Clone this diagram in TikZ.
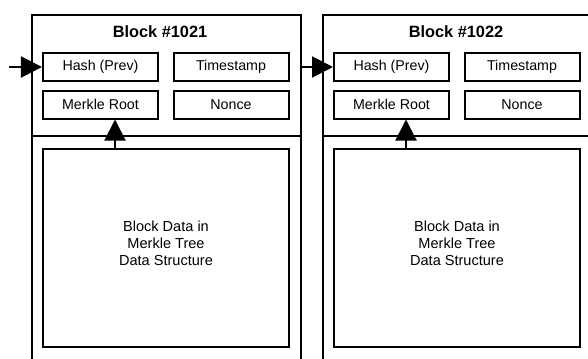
\documentclass[tikz,border=0pt]{standalone}
\usepackage{fontspec}
\setmainfont{Liberation Sans}
\usetikzlibrary{arrows.meta}

\tikzset{
    block/.style = {
        draw, line width=2bp, inner sep=0pt, anchor=north west,
        minimum width=269.5bp, minimum height=360bp
    },
    field/.style = {
        draw, line width=2bp, inner sep=0pt,
        minimum width=115bp, minimum height=28bp,
        font=\fontsize{14.3}{16}\selectfont
    },
    data/.style = {
        draw, line width=2bp, inner sep=0pt,
        minimum width=246bp, minimum height=198.5bp
    },
    title/.style = {
        font=\bfseries\fontsize{16.4}{19}\selectfont
    },
    body/.style = {
        align=center,
        font=\fontsize{14.6}{16.7}\selectfont
    },
    divide/.style = {
        line width=2bp
    },
    link/.style = {
        line width=2bp,
        -{Triangle[length=21bp, width=21bp]}
    }
}

\begin{document}
\begin{tikzpicture}[x=1bp, y=-1bp]
    \useasboundingbox (0,0) rectangle (588,358);
    \clip (0,0) rectangle (588,358);

    % Draw blocks
    \node[block] (block1) at (30.7,14) {};
    \node[block] (block2) at (321.7,14) {};
    \draw[divide] (block1.west |- 0,136) -- (block1.east |- 0,136);
    \draw[divide] (block2.west |- 0,136) -- (block2.east |- 0,136);

    % Draw header fields
    \node[field] (hash1)  at (100.5,67)    {Hash (Prev)};
    \node[field] (stamp1) at (231,67)      {Timestamp};
    \node[field] (root1)  at (100.5,104.5) {Merkle Root};
    \node[field] (nonce1) at (231,104.5)   {Nonce};
    %
    \node[field] (hash2)  at (391.5,67)    {Hash (Prev)};
    \node[field] (stamp2) at (522,67)      {Timestamp};
    \node[field] (root2)  at (391.5,104.5) {Merkle Root};
    \node[field] (nonce2) at (522,104.5)   {Nonce};

    % Draw data areas
    \node[data] (data1) at (166,248.2) {};
    \node[data] (data2) at (457,248.2) {};

    % Draw arrows
    \coordinate (feed) at (9,67);
    \coordinate (tap1) at ([xshift=14.5bp]root1.south);
    \coordinate (tap2) at ([xshift=14.5bp]root2.south);
    \draw[link] (feed) -- (hash1.west);
    \draw[link] (block1.east |- hash2.west) -- (hash2.west);
    \draw[link] (tap1 |- data1.north) -- (tap1);
    \draw[link] (tap2 |- data2.north) -- (tap2);

    % Draw labels
    \node[title] (name1) at (160,31.3) {Block \#1021};
    \node[title] (name2) at (456,31.3) {Block \#1022};
    \node[body] (text1) at (166,243.3) {Block Data in\\Merkle Tree\\Data Structure};
    \node[body] (text2) at (457,243.3) {Block Data in\\Merkle Tree\\Data Structure};
\end{tikzpicture}
\end{document}
